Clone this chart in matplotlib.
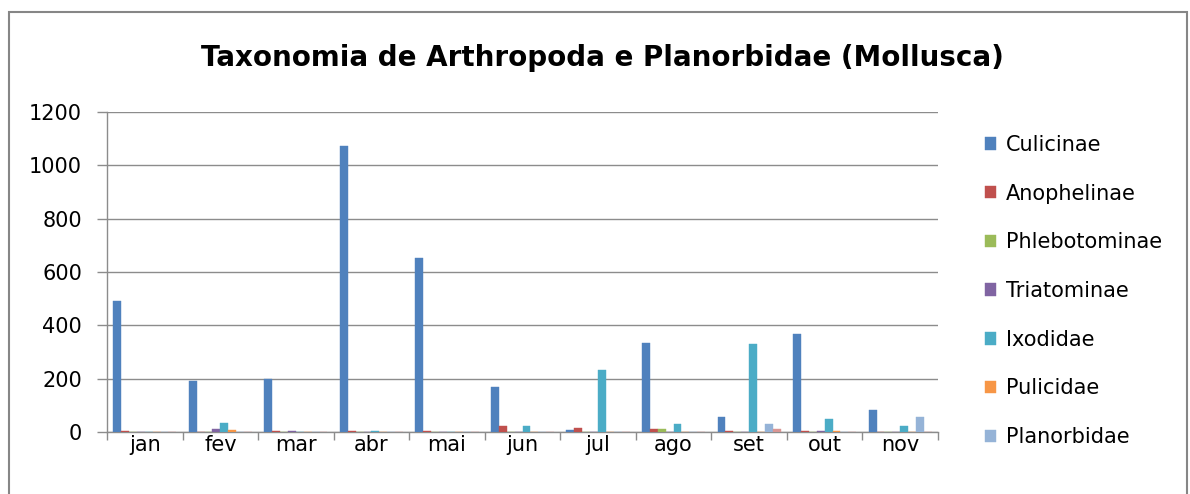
import numpy as np
import matplotlib
matplotlib.use("Agg")
import matplotlib.pyplot as plt
from matplotlib.patches import Rectangle

plt.rcParams['font.family'] = ['DejaVu Sans']

months = ["jan", "fev", "mar", "abr", "mai", "jun", "jul", "ago", "set", "out", "nov"]

culicinae = [492, 193, 199, 1072, 652, 169, 6, 334, 55, 367, 82]
anophelinae = [5, 0, 5, 5, 4, 21, 16, 10, 5, 5, 0]
phlebotominae = [0, 0, 0, 0, 0, 0, 0, 10, 0, 0, 0]
triatominae = [0, 10, 5, 0, 0, 0, 0, 0, 0, 5, 0]
ixodidae = [0, 35, 0, 5, 0, 21, 232, 30, 330, 49, 21]
pulicidae = [0, 6, 0, 0, 0, 0, 0, 0, 0, 5, 0]
planorbidae = [0, 0, 0, 0, 0, 0, 0, 0, 30, 0, 55]
serie8 = [0, 0, 0, 0, 0, 0, 0, 0, 11, 0, 0]  # unnamed series, no legend entry

series = [
    ("Culicinae", culicinae, "#4F81BD"),
    ("Anophelinae", anophelinae, "#C0504D"),
    ("Phlebotominae", phlebotominae, "#9BBB59"),
    ("Triatominae", triatominae, "#8064A2"),
    ("Ixodidae", ixodidae, "#4BACC6"),
    ("Pulicidae", pulicidae, "#F79646"),
    ("Planorbidae", planorbidae, "#95B3D7"),
    ("_serie8", serie8, "#DA9694"),
]

W, H = 1190, 494
fig = plt.figure(figsize=(W / 100, H / 100), dpi=100)
fig.patch.set_facecolor("white")

# outer chart border
fig.patches.append(Rectangle((9 / W, -0.1), (1187 - 9) / W, 1.1 - 12 / H,
                             transform=fig.transFigure, fill=False,
                             edgecolor="#868686", lw=1.5))

ax = fig.add_axes([107 / W, 1 - 432 / H, (938 - 107) / W, (432 - 112) / H])

x = np.arange(len(months))
w = 0.1045
n = len(series)
for i, (name, vals, col) in enumerate(series):
    ax.bar(x + (i - (n - 1) / 2) * w, vals, width=w, color=col,
           edgecolor=col, linewidth=0.3, label=name, zorder=3)

ax.set_xlim(-0.5, len(months) - 0.5)
ax.set_ylim(0, 1200)
ax.set_yticks(np.arange(0, 1201, 200))
ax.yaxis.grid(True, color="#8C8C8C", lw=1, zorder=0)

ax.set_xticks(x)
ax.set_xticklabels(months)
ax.set_xticks(np.arange(-0.5, len(months)), minor=True)
ax.tick_params(axis="x", which="major", length=0, pad=2, labelsize=15)
ax.tick_params(axis="x", which="minor", length=5.5, color="#8C8C8C", width=1)
ax.tick_params(axis="y", length=7, color="#8C8C8C", width=1, pad=11, labelsize=15)

for s in ["top", "right"]:
    ax.spines[s].set_visible(False)
for s in ["left", "bottom"]:
    ax.spines[s].set_color("#8C8C8C")
    ax.spines[s].set_linewidth(1)

fig.text(602 / W, 1 - 58 / H, "Taxonomia de Arthropoda e Planorbidae (Mollusca)",
         ha="center", va="center", fontsize=20, fontweight="bold")

fig.legend(loc="upper left", bbox_to_anchor=(966 / W, 1 - 116 / H),
           frameon=False, fontsize=15, handlelength=0.55, handleheight=0.55,
           handletextpad=0.45, labelspacing=1.38)

fig.savefig("out.png", dpi=100)
